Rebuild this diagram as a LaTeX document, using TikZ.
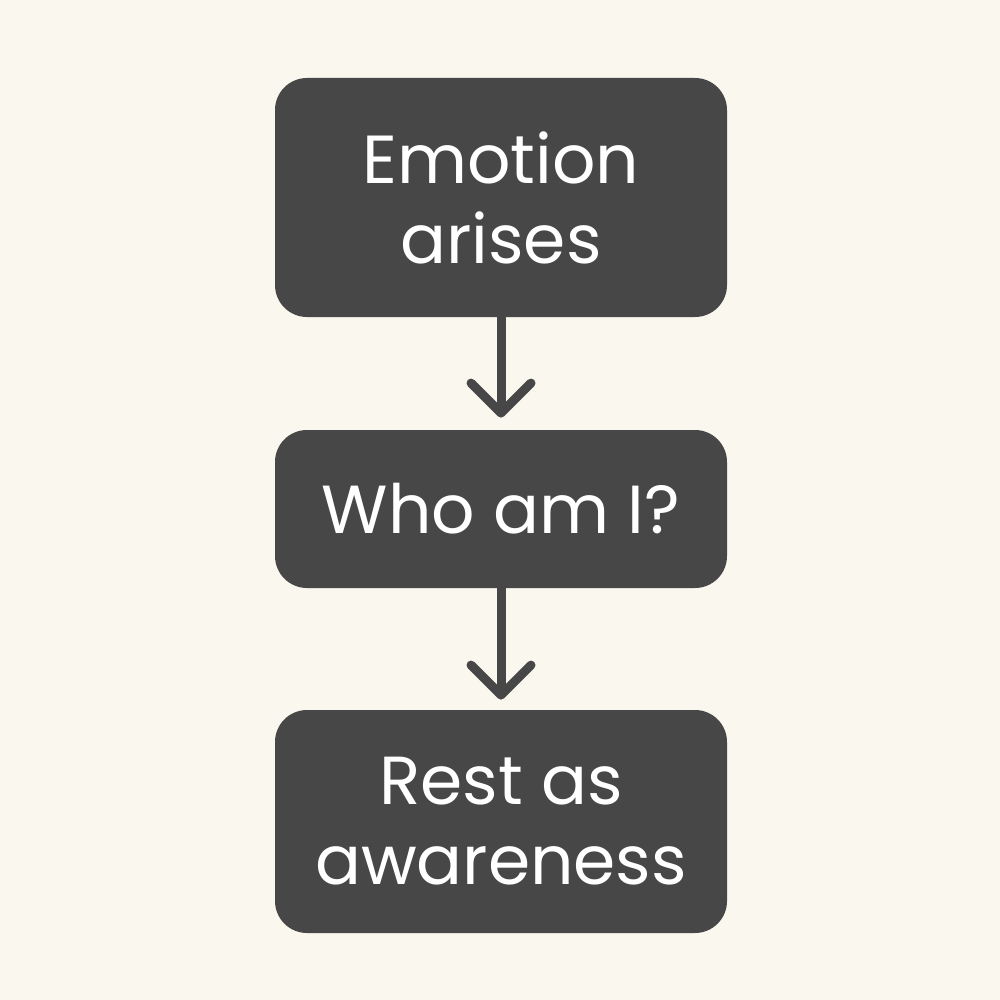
\documentclass[tikz,border=0pt]{standalone}
\usepackage{fontspec}
\setmainfont{Poppins}
\usetikzlibrary{arrows.meta}
\definecolor{bgcream}{HTML}{FAF7EF}
\definecolor{boxgray}{HTML}{474747}
\tikzset{
  stepbox/.style={rectangle, rounded corners=16pt, fill=boxgray, text=white,
    minimum width=226pt, align=center, font=\fontsize{34}{40}\selectfont, inner sep=0pt},
  flow/.style={line width=4.5pt, draw=boxgray, line cap=round,
    -{Straight Barb[length=15pt,width=30pt,line width=4.5pt,round]}}
}
\begin{document}
\begin{tikzpicture}
\fill[bgcream] (0pt,0pt) rectangle (500pt,-500pt);
\useasboundingbox (0pt,0pt) rectangle (500pt,-500pt);
\node (emotion) [stepbox, minimum height=119.5pt] at (250.5pt, -98.75pt) {Emotion\\arises};
\node (who) [stepbox, minimum height=79pt] at (250.5pt, -254.5pt) {Who am I?};
\node (rest) [stepbox, minimum height=111.5pt] at (250.5pt, -410.75pt) {Rest as\\awareness};
\draw [flow] (emotion) -- ([yshift=6pt]who.north);
\draw [flow] (who) -- ([yshift=5pt]rest.north);
\end{tikzpicture}
\end{document}
